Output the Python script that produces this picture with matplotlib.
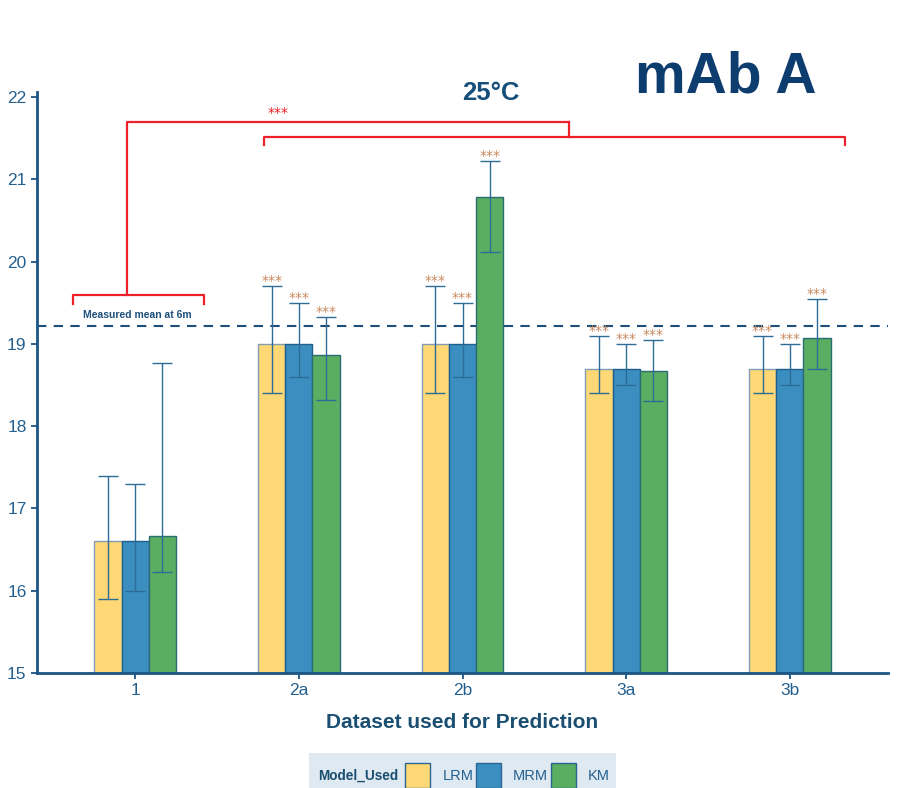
import matplotlib
matplotlib.use("Agg")
import matplotlib.pyplot as plt
from matplotlib.patches import Rectangle
import numpy as np

plt.rcParams['font.family'] = ['Liberation Sans', 'DejaVu Sans']

# Datasets on the x axis and the three prediction models
datasets = ["1", "2a", "2b", "3a", "3b"]
models = ["LRM", "MRM", "KM"]
model_colors = ["#FDD875", "#3A8FC0", "#5AAE61"]

# Predicted means with lower / upper interval bounds per model
lrm_mean = [16.6, 19.0, 19.0, 18.7, 18.7]
lrm_low = [15.9, 18.4, 18.4, 18.4, 18.4]
lrm_high = [17.4, 19.7, 19.7, 19.1, 19.1]

mrm_mean = [16.6, 19.0, 19.0, 18.7, 18.7]
mrm_low = [16.0, 18.6, 18.6, 18.5, 18.5]
mrm_high = [17.3, 19.5, 19.5, 19.0, 19.0]

km_mean = [16.67, 18.87, 20.79, 18.67, 19.07]
km_low = [16.23, 18.32, 20.12, 18.30, 18.69]
km_high = [18.77, 19.33, 21.22, 19.05, 19.54]

# Significance marks above each bar (empty = none)
signif = ["", "***", "***", "***", "***"]

measured_mean_6m = 19.22

y_ticks = [15, 16, 17, 18, 19, 20, 21, 22]

NAVY = "#1b5584"
TICK_BLUE = "#24608f"
ERR = "#2d6c98"
STAR = "#c98a5e"
RED = "#ee2029"

fig = plt.figure(figsize=(9.01, 7.88), dpi=100)
ax = fig.add_axes([37 / 901, 1 - 673 / 788, (888 - 37) / 901, (673 - 91.7) / 788])

x = np.arange(1, len(datasets) + 1)
w = 1 / 6
series = [
    (lrm_mean, lrm_low, lrm_high),
    (mrm_mean, mrm_low, mrm_high),
    (km_mean, km_low, km_high),
]
edge_cols = ["#7f9db6", "#1f5f8b", "#2b6b73"]

for i, (mean, lo, hi) in enumerate(series):
    xi = x + (i - 1) * w
    mean = np.array(mean)
    lo = np.array(lo)
    hi = np.array(hi)
    ax.bar(xi, mean - 15, bottom=15, width=w, color=model_colors[i],
           edgecolor=edge_cols[i], linewidth=1.0, zorder=2)
    ax.errorbar(xi, mean, yerr=[mean - lo, hi - mean], fmt="none",
                ecolor=ERR, elinewidth=1.0, capsize=7.5, capthick=1.0, zorder=3)
    for xx, h, s in zip(xi, hi, signif):
        if s:
            ax.text(xx, h + 0.012, s, ha="center", va="baseline",
                    color=STAR, fontsize=10, family="DejaVu Sans", zorder=4)

# Reference line for the measured mean
ax.axhline(measured_mean_6m, color="#1d4f7a", linestyle=(0, (4.5, 3.5)),
           linewidth=1.5, zorder=1)
ax.text(1.01, measured_mean_6m + 0.07, "Measured mean at 6m", ha="center",
        va="bottom", fontsize=7.5, fontweight="bold", color="#1d4f7a")

# Comparison brackets
ax.plot([0.62, 0.62, 1.42, 1.42], [19.49, 19.60, 19.60, 19.49], color=RED, lw=1.6, zorder=4)
ax.plot([0.95, 0.95, 3.65], [19.60, 21.70, 21.70], color=RED, lw=1.6, zorder=4)
ax.plot([3.65, 3.65], [21.70, 21.52], color=RED, lw=1.6, zorder=4)
ax.plot([1.79, 1.79, 5.34, 5.34], [21.42, 21.52, 21.52, 21.42], color=RED, lw=1.6, zorder=4)
ax.text(1.87, 21.76, "***", ha="center", va="baseline", color=RED,
        fontsize=10, family="DejaVu Sans")

ax.set_xlim(0.4, 5.6)
ax.set_ylim(15, 22.065)
ax.set_xticks(x)
ax.set_xticklabels(datasets)
ax.set_yticks(y_ticks)
ax.tick_params(axis="both", colors=NAVY, labelcolor=TICK_BLUE, labelsize=12.5,
               length=4, width=1.3, direction="out")
for side in ["top", "right"]:
    ax.spines[side].set_visible(False)
for side in ["left", "bottom"]:
    ax.spines[side].set_color(NAVY)
    ax.spines[side].set_linewidth(2)

fig.text(462 / 901, 1 - 722 / 788, "Dataset used for Prediction", ha="center",
         va="center", fontsize=15, fontweight="bold", color="#1b4f72")

fig.text(491 / 901, 1 - 93 / 788, "25°C", ha="center", va="center",
         fontsize=18.5, fontweight="bold", color="#154f7a")
fig.text(725.5 / 901, 1 - 92.5 / 788, "mAb A", ha="center", va="baseline",
         fontsize=41, fontweight="bold", color="#0d3c6e")

# Legend strip along the bottom edge
fig.patches.append(Rectangle((309 / 901, 0), (616 - 309) / 901, (788 - 752.7) / 788,
                             transform=fig.transFigure, facecolor="#dfe9f1",
                             edgecolor="none", zorder=0))
fig.text(318 / 901, 1 - 776 / 788, "Model_Used", ha="left", va="center",
         fontsize=9.8, fontweight="bold", color="#1b4f72")
key_x = [404.7, 475.5, 550.5]
label_x = [442.5, 513, 587.5]
for kx, lx, name, col in zip(key_x, label_x, models, model_colors):
    fig.patches.append(Rectangle((kx / 901, 0), 25 / 901, (788 - 763) / 788,
                                 transform=fig.transFigure, facecolor=col,
                                 edgecolor="#2a6592", linewidth=1.0, zorder=1))
    fig.text(lx / 901, 1 - 776 / 788, name, ha="left", va="center",
             fontsize=10.5, color=TICK_BLUE)

fig.savefig("out.png", dpi=100)
